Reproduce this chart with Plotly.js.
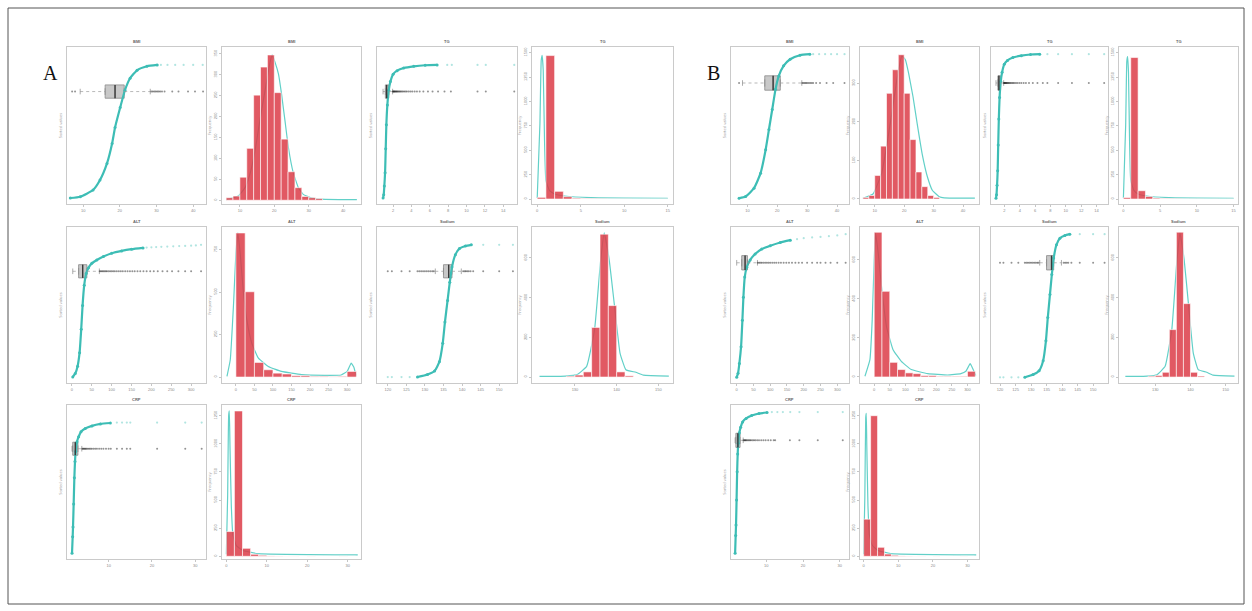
<!DOCTYPE html>
<html><head><meta charset="utf-8">
<script src="https://cdn.plot.ly/plotly-3.0.1.min.js"></script>
<style>html,body{margin:0;padding:0;background:#fff;}#chart{width:1252px;height:611px;}</style>
</head><body><div id="chart"></div>
<script>
// ---------------- DATA ----------------
// Group A, row 1
const a1Val  = [6.5, 9.2, 12.7, 14.6, 16.5, 17.9, 18.7, 20.1, 21.4, 22.8, 24.7, 27.4, 30.2];
const a1Rank = [0, 0.01, 0.06, 0.135, 0.26, 0.41, 0.53, 0.68, 0.81, 0.90, 0.96, 0.99, 1.0];
const a1TailVal  = [31.2, 33.0, 35.1, 37.4, 40.0, 42.6];
const a1TailRank = [1, 1, 1, 1, 1, 1];
const a1Box = [9.2, 16.0, 18.7, 21.2, 28.3];
const a1Out = [7.0, 7.8, 28.6, 29.0, 29.4, 29.8, 30.2, 30.6, 31.0, 31.5, 32.2, 34.3, 36.0, 38.6, 40.5, 42.7];

const a2Edges  = [6, 8, 10, 12, 14, 16, 18, 20, 22, 24, 26, 28, 30, 32, 34];
const a2Counts = [6, 10, 55, 124, 251, 318, 347, 257, 146, 68, 30, 9, 6, 4];
const a2DensX = [6.1, 9.5, 11.5, 12.9, 14.4, 15.8, 17.3, 18.7, 19.4, 20.2, 21.2, 22.1, 23.1, 24.1, 25.5, 27.0, 28.4, 30.9, 34.8, 44.0];
const a2DensY = [1.6, 10, 30, 62, 118, 190, 262, 327, 347, 330, 302, 254, 190, 126, 66, 30, 14, 5, 2, 1.6];

const a3Val  = [0.91, 0.98, 1.05, 1.13, 1.2, 1.27, 1.38, 1.53, 1.71, 2.0, 2.44, 3.16, 4.25, 5.5, 6.8];
const a3Rank = [0, 0.025, 0.09, 0.19, 0.37, 0.55, 0.70, 0.81, 0.875, 0.93, 0.957, 0.977, 0.99, 0.998, 1];
const a3TailVal  = [7.9, 8.4, 11.2, 12.1, 15.2];
const a3TailRank = [1, 1, 1, 1, 1];
const a3Box = [0.91, 1.16, 1.3, 1.53, 1.95];
const a3Out = [1.97, 2.02, 2.08, 2.14, 2.2, 2.27, 2.34, 2.42, 2.5, 2.6, 2.7, 2.8, 2.92, 3.05, 3.2, 3.35, 3.5, 3.7, 3.9, 4.1, 4.35, 4.6, 4.9, 5.3, 5.8, 6.3, 6.9, 7.6, 8.3, 11.2, 12.1, 15.2];

const a4Edges  = [0, 1, 2, 3, 4, 5, 6, 7, 8, 9, 10, 11, 12, 13, 14, 15];
const a4Counts = [17, 1470, 79, 24, 8, 4, 3, 2, 1, 1, 1, 0, 1, 0, 1];
const a4DensX = [0, 0.31, 0.46, 0.57, 0.69, 0.84, 1.0, 1.42, 1.99, 3.14, 6.2, 15];
const a4DensY = [10, 771, 1422, 1473, 1318, 599, 188, 86, 51, 31, 14, 7];

// Group A, row 2
const a5Val  = [2, 8.3, 14.2, 19.2, 23.3, 26.7, 30.8, 35.8, 41.7, 50, 62.5, 79.2, 100, 125, 150, 179];
const a5Rank = [0, 0.026, 0.082, 0.184, 0.362, 0.541, 0.694, 0.783, 0.827, 0.86, 0.885, 0.911, 0.936, 0.954, 0.967, 0.977];
const a5TailVal  = [188, 200, 212, 225, 240, 255, 270, 285, 300, 312, 325];
const a5TailRank = [0.979, 0.981, 0.983, 0.985, 0.987, 0.989, 0.991, 0.992, 0.994, 0.996, 1.0];
const a5Box = [2, 16.7, 27.0, 37.5, 69];
const a5Out = [70, 73, 76, 79, 82, 85, 88, 92, 96, 100, 104, 108, 113, 118, 123, 128, 134, 140, 146, 152, 158, 165, 172, 180, 188, 197, 206, 216, 228, 240, 252, 268, 285, 300, 325];

const a6Edges  = [0, 25, 50, 75, 100, 125, 150, 175, 200, 225, 250, 275, 300, 325];
const a6Counts = [848, 502, 86, 43, 23, 18, 8, 8, 4, 4, 2, 4, 33];
const a6DensX = [-24.1, -15.2, -6.25, 0, 5.4, 11.6, 20.5, 29.5, 42.9, 60.7, 87.5, 123, 177, 239, 284, 300, 311, 318, 324];
const a6DensY = [4, 102, 434, 727, 848, 727, 492, 336, 199, 111, 62, 33, 14, 10, 12, 33, 82, 59, 8];

const a7Val  = [128.0, 130.7, 132.6, 133.9, 134.8, 135.4, 136.1, 136.7, 137.3, 138.2, 139.3, 140.9, 142.5];
const a7Rank = [0, 0.019, 0.046, 0.116, 0.255, 0.417, 0.579, 0.718, 0.833, 0.926, 0.972, 0.991, 1];
const a7TailVal  = [120, 121.1, 123.7, 125.9, 145.7, 150, 153.7];
const a7TailRank = [0, 0, 0, 0, 1, 1, 1];
const a7Box = [132.8, 135.0, 136.4, 137.3, 139.8];
const a7Out = [120, 121.1, 123.7, 125.9, 128, 128.5, 129, 129.5, 130, 130.5, 131, 131.5, 132, 132.4, 140.3, 140.7, 141, 141.4, 141.8, 142.3, 143, 145.7, 150, 153.7];

const a8Edges  = [128, 130, 132, 134, 136, 138, 140, 142, 144];
const a8Counts = [4, 10, 26, 250, 720, 360, 26, 6];
const a8DensX = [121.5, 127.7, 130.5, 132.8, 134.7, 136.1, 137.0, 138.2, 139.4, 140.8, 142.2, 144.6, 146.4, 152.5];
const a8DensY = [3, 5, 12, 54, 239, 575, 726, 592, 373, 121, 37, 24, 10, 5];

// Group A, row 3
const a9Val  = [1.54, 1.69, 1.77, 1.92, 2.08, 2.23, 2.38, 2.69, 3.08, 3.62, 4.6, 6.15, 8.1, 10.4];
const a9Rank = [0, 0.126, 0.2, 0.377, 0.578, 0.703, 0.779, 0.854, 0.892, 0.93, 0.955, 0.975, 0.99, 0.997];
const a9TailVal  = [11.9, 13.1, 14.2, 15.0, 21.2, 27.7, 31.5];
const a9TailRank = [1, 1, 1, 1, 1, 1, 1];
const a9Box = [1.54, 1.7, 2.3, 2.9, 3.8];
const a9Out = [3.9, 4.1, 4.3, 4.5, 4.7, 4.9, 5.2, 5.5, 5.8, 6.1, 6.5, 6.9, 7.3, 7.8, 8.3, 8.8, 9.4, 10.0, 10.5, 11.9, 13.1, 14.2, 15.0, 21.2, 27.7, 31.5];

const a10Edges  = [0, 2, 4, 6, 8, 10, 12, 14, 16, 18, 20, 22, 24, 26, 28, 30, 32];
const a10Counts = [220, 1292, 71, 18, 9, 3, 2, 1, 1, 0, 1, 0, 0, 0, 1, 0];
const a10DensX = [0, 0.33, 0.58, 0.74, 0.9, 1.23, 1.64, 2.47, 4.1, 7.8, 32.5];
const a10DensY = [18, 542, 1256, 1292, 988, 452, 185, 95, 51, 24, 12];

// Group B, row 1
const b1Val  = [7.2, 9.4, 12.2, 14.4, 16.1, 17.2, 18.3, 19.4, 20.5, 22.1, 24.3, 27.6, 30.9];
const b1Rank = [0, 0.012, 0.07, 0.174, 0.337, 0.477, 0.616, 0.756, 0.849, 0.919, 0.965, 0.993, 1];
const b1TailVal  = [32.0, 34.0, 36.0, 38.0, 40.0, 42.5];
const b1TailRank = [1, 1, 1, 1, 1, 1];
const b1Box = [8.35, 15.8, 18.6, 21.0, 28.2];
const b1Out = [7.2, 28.4, 28.8, 29.2, 29.6, 30.0, 30.5, 31.0, 31.5, 32.0, 33.0, 34.3, 36.5, 38.7, 42.5];

const b2Edges  = [6, 8, 10, 12, 14, 16, 18, 20, 22, 24, 26, 28, 30, 32];
const b2Counts = [4, 9, 61, 137, 274, 335, 374, 274, 154, 70, 32, 9, 4];
const b2DensX = [5.96, 9.42, 12.3, 14.0, 15.8, 17.5, 19.2, 20.4, 21.5, 23.0, 24.4, 26.1, 27.9, 29.6, 31.9, 33.6, 44.0];
const b2DensY = [2, 13, 65, 135, 222, 309, 371, 361, 326, 265, 196, 117, 57, 22, 6, 3, 2];

const b3Val  = [0.9, 0.97, 1.04, 1.12, 1.19, 1.27, 1.37, 1.52, 1.7, 1.98, 2.4, 3.1, 4.2, 5.4, 6.6];
const b3Rank = [0, 0.025, 0.09, 0.19, 0.37, 0.55, 0.70, 0.81, 0.875, 0.93, 0.957, 0.977, 0.99, 0.998, 1];
const b3TailVal  = [7.6, 9.0, 10.8, 13.0, 15.0];
const b3TailRank = [1, 1, 1, 1, 1];
const b3Box = [0.9, 1.15, 1.28, 1.5, 1.9];
const b3Out = [1.93, 1.98, 2.04, 2.1, 2.17, 2.24, 2.32, 2.4, 2.5, 2.6, 2.72, 2.85, 3.0, 3.15, 3.3, 3.5, 3.7, 3.95, 4.2, 4.5, 4.8, 5.2, 5.7, 6.3, 7.0, 7.6, 9.0, 10.8, 13.0, 15.0];

const b4Edges  = [0, 1, 2, 3, 4, 5, 6, 7, 8, 9, 10, 11, 12, 13, 14, 15];
const b4Counts = [15, 1450, 85, 26, 9, 4, 3, 2, 1, 1, 1, 0, 1, 0, 1];
const b4DensX = [0, 0.31, 0.46, 0.57, 0.69, 0.84, 1.0, 1.42, 1.99, 3.14, 6.2, 15];
const b4DensY = [10, 760, 1410, 1460, 1300, 590, 190, 90, 52, 31, 14, 7];

// Group B, row 2
const b5Val  = [0, 4, 8, 13, 17, 20, 24, 30, 40, 55, 75, 100, 130, 160];
const b5Rank = [0, 0.028, 0.097, 0.213, 0.398, 0.56, 0.70, 0.769, 0.819, 0.861, 0.896, 0.919, 0.942, 0.958];
const b5TailVal  = [180, 200, 225, 250, 275, 300, 325];
const b5TailRank = [0.965, 0.972, 0.977, 0.981, 0.986, 0.991, 1];
const b5Box = [0, 15, 25, 32, 62];
const b5Out = [63, 67, 71, 75, 80, 85, 90, 95, 100, 106, 112, 118, 125, 132, 140, 148, 156, 165, 175, 185, 195, 210, 225, 240, 250, 265, 280, 300, 325];

const b6Edges  = [0, 25, 50, 75, 100, 125, 150, 175, 200, 225, 250, 275, 300, 325];
const b6Counts = [742, 439, 75, 38, 21, 17, 7, 7, 3, 3, 3, 3, 29];
const b6DensX = [-29.8, -13.8, -6.4, 0, 4.3, 12.8, 23.4, 39.4, 60.6, 87.2, 119.1, 172.3, 236.2, 278.7, 294.7, 308.5, 316, 326.6];
const b6DensY = [3.4, 89, 294, 602, 738, 636, 465, 260, 140, 80, 38, 17, 10, 17, 29, 68, 46, 7];

const b7Val  = [128.0, 130.7, 132.6, 133.9, 134.8, 135.4, 136.1, 136.7, 137.3, 138.2, 139.3, 140.9, 142.5];
const b7Rank = [0, 0.019, 0.046, 0.116, 0.255, 0.417, 0.579, 0.718, 0.833, 0.926, 0.972, 0.991, 1];
const b7TailVal  = [120, 121.1, 123.7, 125.9, 145.7, 150, 153.7];
const b7TailRank = [0, 0, 0, 0, 1, 1, 1];
const b7Box = [132.8, 135.0, 136.6, 137.3, 139.8];
const b7Out = [120, 121.1, 123.7, 125.9, 128, 128.5, 129, 129.5, 130, 130.5, 131, 131.5, 132, 132.4, 140.5, 141, 141.5, 142, 143, 145.7, 150, 153.7];

const b8Edges  = [128, 130, 132, 134, 136, 138, 140, 142, 144];
const b8Counts = [4, 8, 24, 239, 730, 370, 24, 5];
const b8DensX = [121.5, 127.7, 130.5, 132.8, 134.7, 136.1, 137.0, 138.2, 139.4, 140.8, 142.2, 144.6, 146.4, 152.5];
const b8DensY = [3, 5, 12, 54, 239, 575, 726, 592, 373, 121, 37, 24, 10, 5];

// Group B, row 3
const b9Val  = [1.5, 1.65, 1.75, 1.9, 2.05, 2.2, 2.35, 2.65, 3.0, 3.55, 4.5, 6.0, 8.0, 10.2];
const b9Rank = [0, 0.126, 0.2, 0.377, 0.578, 0.703, 0.779, 0.854, 0.892, 0.93, 0.955, 0.975, 0.99, 0.997];
const b9TailVal  = [11.5, 13.0, 14.5, 16.5, 19.0, 24.0, 30.8];
const b9TailRank = [1, 1, 1, 1, 1, 1, 1];
const b9Box = [1.5, 1.7, 2.25, 2.85, 3.7];
const b9Out = [3.8, 4.0, 4.2, 4.4, 4.6, 4.9, 5.2, 5.5, 5.8, 6.2, 6.6, 7.0, 7.5, 8.0, 8.6, 9.2, 9.8, 10.5, 11.2, 12.0, 12.4, 16.4, 19.0, 24.0, 30.8];

const b10Edges  = [0, 2, 4, 6, 8, 10, 12, 14, 16, 18, 20, 22, 24, 26, 28, 30, 32];
const b10Counts = [330, 1250, 80, 20, 9, 3, 2, 1, 1, 0, 1, 0, 0, 0, 1, 0];
const b10DensX = [0, 0.33, 0.58, 0.74, 0.9, 1.23, 1.64, 2.47, 4.1, 7.8, 32.5];
const b10DensY = [18, 530, 1230, 1270, 970, 450, 190, 98, 52, 24, 12];

// ---------------- LAYOUT / STYLE ----------------
const W = 1252, H = 611;
const colsA = [[67, 206], [222, 361], [377, 517], [532, 673]];
const colsB = [[731, 849], [860, 979], [991, 1108], [1119, 1238]];
const rowsPx = [[47, 204], [227, 383], [405, 559]];
const rankRangeA = [-0.045, 1.135], rankRangeB = [-0.04, 1.05];
const BOXPOS = 0.8, BOXW = 0.1;

const E = (title, val, rank, tv, tr, box, out, xr, xt) => ({kind: 'ecdf', title, val, rank, tv, tr, box, out, xr, xt});
const Hh = (title, edges, counts, dx, dy, xr, xt, yr, yt) => ({kind: 'hist', title, edges, counts, dx, dy, xr, xt, yr, yt});

const t10 = [10, 20, 30, 40], t50 = [0, 50, 100, 150, 200, 250, 300], tNa = [120, 125, 130, 135, 140, 145, 150];
const panels = [
  ['A', 0, 0, E('BMI', a1Val, a1Rank, a1TailVal, a1TailRank, a1Box, a1Out, [5.6, 43.5], t10)],
  ['A', 1, 0, Hh('BMI', a2Edges, a2Counts, a2DensX, a2DensY, [4.8, 45.2], t10, [-9, 366], [0, 50, 100, 150, 200, 250, 300, 350])],
  ['A', 2, 0, E('TG', a3Val, a3Rank, a3TailVal, a3TailRank, a3Box, a3Out, [0.25, 15.5], [2, 4, 6, 8, 10, 12, 14])],
  ['A', 3, 0, Hh('TG', a4Edges, a4Counts, a4DensX, a4DensY, [-0.6, 15.6], [0, 5, 10, 15], [-51, 1558], [0, 250, 500, 750, 1000, 1250, 1500])],
  ['A', 0, 1, E('ALT', a5Val, a5Rank, a5TailVal, a5TailRank, a5Box, a5Out, [-12.5, 337.5], t50)],
  ['A', 1, 1, Hh('ALT', a6Edges, a6Counts, a6DensX, a6DensY, [-37.5, 337.5], t50, [-35, 883], [0, 250, 500, 750])],
  ['A', 2, 1, E('Sodium', a7Val, a7Rank, a7TailVal, a7TailRank, a7Box, a7Out, [117.1, 154.8], tNa)],
  ['A', 3, 1, Hh('Sodium', a8Edges, a8Counts, a8DensX, a8DensY, [119.7, 153.5], [130, 140, 150], [-30, 756], [0, 200, 400, 600])],
  ['A', 0, 2, E('CRP', a9Val, a9Rank, a9TailVal, a9TailRank, a9Box, a9Out, [0.38, 32.5], [10, 20, 30])],
  ['A', 1, 2, Hh('CRP', a10Edges, a10Counts, a10DensX, a10DensY, [-1.07, 33.3], [0, 10, 20, 30], [-24, 1345], [0, 250, 500, 750, 1000, 1250])],
  ['B', 0, 0, E('BMI', b1Val, b1Rank, b1TailVal, b1TailRank, b1Box, b1Out, [4.5, 44], t10)],
  ['B', 1, 0, Hh('BMI', b2Edges, b2Counts, b2DensX, b2DensY, [5.0, 45.4], t10, [-13, 394], [0, 100, 200, 300])],
  ['B', 2, 0, E('TG', b3Val, b3Rank, b3TailVal, b3TailRank, b3Box, b3Out, [0.25, 15.5], [2, 4, 6, 8, 10, 12, 14])],
  ['B', 3, 0, Hh('TG', b4Edges, b4Counts, b4DensX, b4DensY, [-0.6, 15.6], [0, 5, 10, 15], [-51, 1558], [0, 250, 500, 750, 1000, 1250, 1500])],
  ['B', 0, 1, E('ALT', b5Val, b5Rank, b5TailVal, b5TailRank, b5Box, b5Out, [-17, 335], t50)],
  ['B', 1, 1, Hh('ALT', b6Edges, b6Counts, b6DensX, b6DensY, [-45.7, 337], t50, [-31, 769], [0, 200, 400, 600])],
  ['B', 2, 1, E('Sodium', b7Val, b7Rank, b7TailVal, b7TailRank, b7Box, b7Out, [117.1, 154.8], tNa)],
  ['B', 3, 1, Hh('Sodium', b8Edges, b8Counts, b8DensX, b8DensY, [119.7, 153.5], [130, 140, 150], [-30, 756], [0, 200, 400, 600])],
  ['B', 0, 2, E('CRP', b9Val, b9Rank, b9TailVal, b9TailRank, b9Box, b9Out, [0.38, 32.5], [10, 20, 30])],
  ['B', 1, 2, Hh('CRP', b10Edges, b10Counts, b10DensX, b10DensY, [-1.07, 33.3], [0, 10, 20, 30], [-24, 1345], [0, 250, 500, 750, 1000, 1250])]
];

const CURVE = '#3dbdb5', CURVE_L = 'rgba(61,189,181,0.4)', DENS = '#62d0c8';
const BAR = 'rgba(220,60,72,0.85)';
const tickFont = {size: 4, color: '#8a8a8a', family: 'Liberation Sans, Arial, sans-serif'};
const axBase = {showline: true, mirror: true, linecolor: '#cacaca', linewidth: 1, showgrid: false, zeroline: false,
  ticks: 'outside', ticklen: 2, tickwidth: 0.6, tickcolor: '#a0a0a0', tickfont: tickFont, fixedrange: true};

const layout = {width: W, height: H, margin: {l: 0, r: 0, t: 0, b: 0}, paper_bgcolor: '#fff', plot_bgcolor: '#fff',
  showlegend: false, hovermode: false, annotations: [], shapes: []};
const traces = [];
let ovIdx = panels.length;

panels.forEach((pp, i) => {
  const [g, c, r, p] = pp;
  const k = i + 1;
  const sfx = k === 1 ? '' : String(k);
  const xid = 'x' + sfx, yid = 'y' + sfx;
  const col = (g === 'A' ? colsA : colsB)[c];
  const row = rowsPx[r];
  const dx = [col[0] / W, col[1] / W], dy = [1 - row[1] / H, 1 - row[0] / H];
  layout['xaxis' + sfx] = Object.assign({}, axBase, {domain: dx, anchor: yid, range: p.xr, tickvals: p.xt, ticktext: p.xt.map(String)});
  layout.annotations.push({xref: xid + ' domain', yref: yid + ' domain', x: 0.5, y: 1, yanchor: 'bottom', yshift: 1,
    text: '<b>' + p.title + '</b>', showarrow: false, font: {size: 4, color: '#666', family: 'Liberation Sans, Arial, sans-serif'}});

  if (p.kind === 'ecdf') {
    const yr = g === 'A' ? rankRangeA : rankRangeB;
    layout['yaxis' + sfx] = Object.assign({}, axBase, {domain: dy, anchor: xid, range: yr, ticks: '', showticklabels: false,
      title: {text: 'Sorted values', font: {size: 4, color: '#999'}, standoff: 3}});
    traces.push({type: 'scatter', mode: 'lines+markers', x: p.val, y: p.rank, xaxis: xid, yaxis: yid,
      line: {color: CURVE, width: 2.2, shape: 'spline', smoothing: 0.5}, marker: {size: 3, color: CURVE}});
    traces.push({type: 'scatter', mode: 'markers', x: p.tv, y: p.tr, xaxis: xid, yaxis: yid,
      marker: {size: 2.2, color: CURVE_L}});
    const b = p.box;
    traces.push({type: 'scatter', mode: 'lines', x: [b[0], b[1], null, b[3], b[4]], y: [BOXPOS, BOXPOS, null, BOXPOS, BOXPOS],
      xaxis: xid, yaxis: yid, line: {color: '#9a9a9a', width: 0.7, dash: 'dot'}});
    traces.push({type: 'scatter', mode: 'markers', x: [b[0], b[4]], y: [BOXPOS, BOXPOS], xaxis: xid, yaxis: yid,
      marker: {symbol: 'line-ns-open', size: 4, color: '#888', line: {color: '#888', width: 0.7}}});
    traces.push({type: 'scatter', mode: 'markers', x: p.out, y: p.out.map(() => BOXPOS), xaxis: xid, yaxis: yid,
      marker: {symbol: 'circle', size: 2, color: 'rgba(15,15,15,0.45)'}});
    traces.push({type: 'box', orientation: 'h', y: [BOXPOS], q1: [b[1]], median: [b[2]], q3: [b[3]],
      lowerfence: [b[1]], upperfence: [b[3]], width: BOXW, boxpoints: false, xaxis: xid, yaxis: yid,
      fillcolor: '#c8c8c8', line: {color: '#8a8a8a', width: 0.8}});
    traces.push({type: 'scatter', mode: 'lines', x: [b[2], b[2]], y: [BOXPOS - BOXW / 2, BOXPOS + BOXW / 2], xaxis: xid, yaxis: yid,
      line: {color: '#3a3a3a', width: 1.4}});
  } else {
    layout['yaxis' + sfx] = Object.assign({}, axBase, {domain: dy, anchor: xid, range: p.yr, tickvals: p.yt,
      ticktext: p.yt.map(String), tickangle: -90, title: {text: 'Frequency', font: {size: 4, color: '#999'}, standoff: 2}});
    ovIdx += 1;
    const oid = 'y' + ovIdx;
    layout['yaxis' + ovIdx] = {overlaying: yid, anchor: xid, range: p.yr, visible: false, fixedrange: true};
    traces.push({type: 'scatter', mode: 'lines', x: p.dx, y: p.dy, xaxis: xid, yaxis: yid,
      line: {color: DENS, width: 1.2, shape: 'spline', smoothing: 0.35}});
    const centers = p.counts.map((v, j) => (p.edges[j] + p.edges[j + 1]) / 2);
    const widths = p.counts.map((v, j) => p.edges[j + 1] - p.edges[j]);
    traces.push({type: 'bar', x: centers, y: p.counts, width: widths, xaxis: xid, yaxis: oid,
      marker: {color: BAR, line: {color: '#ffffff', width: 0.6}}});
  }
});

layout.annotations.push({xref: 'paper', yref: 'paper', x: 41 / W, y: 1 - 60 / H, text: 'A', showarrow: false,
  font: {size: 20, color: '#111', family: 'Liberation Serif, DejaVu Serif, serif'}});
layout.annotations.push({xref: 'paper', yref: 'paper', x: 713 / W, y: 1 - 60 / H, text: 'B', showarrow: false,
  font: {size: 20, color: '#111', family: 'Liberation Serif, DejaVu Serif, serif'}});
layout.shapes.push({type: 'rect', xref: 'paper', yref: 'paper', x0: 8 / W, x1: 1244 / W, y0: 1 - 604 / H, y1: 1 - 8 / H,
  line: {color: '#555', width: 1}, fillcolor: 'rgba(0,0,0,0)'});

Plotly.newPlot('chart', traces, layout, {displayModeBar: false, staticPlot: true});
</script></body></html>
